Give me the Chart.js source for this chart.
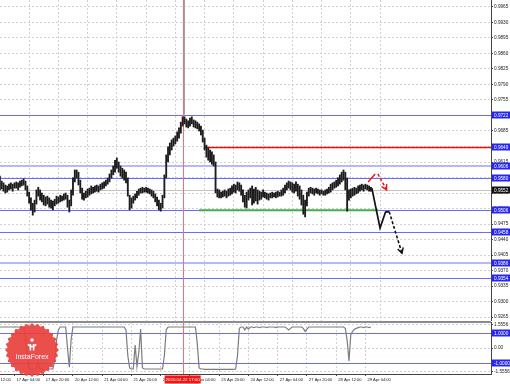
<!DOCTYPE html>
<html lang="en">
<head>
<meta charset="UTF-8">
<title>EURCHF H1</title>
<script src="https://cdn.jsdelivr.net/npm/chart.js"></script>
<style>
  body { margin: 0; background: #fff; }
  #wrap { position: relative; width: 510px; height: 384px; overflow: hidden; }
  #main { position: absolute; left: 0; top: 0; }
  #osc { position: absolute; left: 0; top: 321px; }
</style>
</head>
<body>
<div id="wrap">
  <canvas id="main" width="510" height="321"></canvas>
  <canvas id="osc" width="510" height="63"></canvas>
</div>
<script>
// bar index 0 = 17 Apr 04:00, one bar per hour of trading
const firstBar = -8;
const highs = [
  0.9583, 0.9572, 0.9568, 0.9563, 0.9561, 0.9565, 0.9568, 0.9565,
  0.9568, 0.9570, 0.9568, 0.9572, 0.9574, 0.9577, 0.9572, 0.9561, 0.9547, 0.9534,
  0.9522, 0.9529, 0.9552, 0.9558, 0.9552, 0.9545, 0.9540, 0.9536, 0.9538, 0.9534,
  0.9529, 0.9527, 0.9531, 0.9538, 0.9536, 0.9540, 0.9538, 0.9543, 0.9545, 0.9540,
  0.9529, 0.9552, 0.9579, 0.9597, 0.9597, 0.9592, 0.9574, 0.9556, 0.9545, 0.9549,
  0.9554, 0.9556, 0.9561, 0.9558, 0.9561, 0.9563, 0.9561, 0.9565, 0.9568, 0.9570,
  0.9574, 0.9579, 0.9588, 0.9597, 0.9606, 0.9619, 0.9624, 0.9615, 0.9606, 0.9601,
  0.9597, 0.9592, 0.9579, 0.9540, 0.9534, 0.9538, 0.9543, 0.9549, 0.9554, 0.9556,
  0.9558, 0.9556, 0.9558, 0.9556, 0.9554, 0.9552, 0.9549, 0.9543, 0.9536, 0.9529,
  0.9522, 0.9540, 0.9586, 0.9631, 0.9649, 0.9658, 0.9665, 0.9669, 0.9674, 0.9683,
  0.9692, 0.9705, 0.9717, 0.9717, 0.9712, 0.9708, 0.9714, 0.9717, 0.9710, 0.9708,
  0.9705, 0.9701, 0.9696, 0.9687, 0.9669, 0.9653, 0.9647, 0.9642, 0.9638, 0.9631,
  0.9615, 0.9554, 0.9552, 0.9547, 0.9549, 0.9552, 0.9549, 0.9554, 0.9556, 0.9561,
  0.9565, 0.9563, 0.9570, 0.9568, 0.9563, 0.9552, 0.9540, 0.9547, 0.9552, 0.9556,
  0.9561, 0.9554, 0.9558, 0.9552, 0.9549, 0.9547, 0.9552, 0.9547, 0.9545, 0.9543,
  0.9545, 0.9547, 0.9545, 0.9547, 0.9549, 0.9547, 0.9552, 0.9556, 0.9563, 0.9568,
  0.9572, 0.9570, 0.9568, 0.9565, 0.9570, 0.9565, 0.9561, 0.9552, 0.9540, 0.9529,
  0.9547, 0.9556, 0.9558, 0.9556, 0.9554, 0.9556, 0.9554, 0.9552, 0.9552, 0.9549,
  0.9552, 0.9554, 0.9558, 0.9565, 0.9568, 0.9570, 0.9574, 0.9579, 0.9586, 0.9592,
  0.9597, 0.9592, 0.9579, 0.9552, 0.9554, 0.9556, 0.9558, 0.9556, 0.9561, 0.9563,
  0.9565, 0.9563, 0.9565, 0.9563, 0.9561, 0.9558
];
const lows = [
  0.9552, 0.9554, 0.9549, 0.9545, 0.9547, 0.9552, 0.9554, 0.9549,
  0.9556, 0.9556, 0.9552, 0.9558, 0.9561, 0.9563, 0.9552, 0.9538, 0.9522, 0.9507,
  0.9495, 0.9502, 0.9520, 0.9538, 0.9529, 0.9525, 0.9518, 0.9516, 0.9520, 0.9513,
  0.9511, 0.9507, 0.9516, 0.9520, 0.9522, 0.9525, 0.9527, 0.9529, 0.9531, 0.9513,
  0.9502, 0.9516, 0.9540, 0.9570, 0.9579, 0.9563, 0.9545, 0.9531, 0.9529, 0.9534,
  0.9536, 0.9540, 0.9543, 0.9545, 0.9547, 0.9549, 0.9547, 0.9552, 0.9554, 0.9556,
  0.9561, 0.9565, 0.9570, 0.9579, 0.9586, 0.9592, 0.9601, 0.9592, 0.9583, 0.9579,
  0.9574, 0.9568, 0.9538, 0.9507, 0.9511, 0.9522, 0.9529, 0.9534, 0.9540, 0.9545,
  0.9545, 0.9547, 0.9547, 0.9545, 0.9543, 0.9538, 0.9534, 0.9525, 0.9516, 0.9507,
  0.9504, 0.9511, 0.9534, 0.9579, 0.9615, 0.9631, 0.9642, 0.9651, 0.9656, 0.9662,
  0.9669, 0.9680, 0.9696, 0.9701, 0.9694, 0.9692, 0.9696, 0.9701, 0.9694, 0.9692,
  0.9690, 0.9685, 0.9676, 0.9660, 0.9642, 0.9626, 0.9619, 0.9615, 0.9610, 0.9606,
  0.9545, 0.9536, 0.9534, 0.9534, 0.9536, 0.9538, 0.9534, 0.9538, 0.9540, 0.9543,
  0.9547, 0.9545, 0.9552, 0.9549, 0.9540, 0.9525, 0.9513, 0.9511, 0.9529, 0.9534,
  0.9518, 0.9522, 0.9527, 0.9520, 0.9529, 0.9531, 0.9536, 0.9534, 0.9531, 0.9529,
  0.9534, 0.9534, 0.9536, 0.9534, 0.9536, 0.9538, 0.9538, 0.9540, 0.9545, 0.9552,
  0.9556, 0.9552, 0.9547, 0.9545, 0.9549, 0.9538, 0.9531, 0.9518, 0.9497, 0.9491,
  0.9516, 0.9538, 0.9545, 0.9543, 0.9540, 0.9545, 0.9543, 0.9540, 0.9543, 0.9540,
  0.9540, 0.9543, 0.9545, 0.9547, 0.9552, 0.9556, 0.9558, 0.9561, 0.9565, 0.9570,
  0.9574, 0.9552, 0.9504, 0.9529, 0.9534, 0.9538, 0.9540, 0.9543, 0.9545, 0.9549,
  0.9552, 0.9549, 0.9554, 0.9552, 0.9549, 0.9549
];
const osc = [
  1.39, 1.39, 1.39, 1.39, 1.39, 1.39, 1.39, 1.39,
  1.39, 1.39, 1.39, 1.39, 1.39, 1.39, 0.8, -0.5, -1.37, -1.37,
  -1.37, -1.37, -1.37, -0.9, -1.37, -1.37, -1.37, -1.37, -1.37, -1.37,
  -1.37, -1.37, -0.8, 0.5, 1.2, 1.39, 1.39, 1.39, 1.39, 0.0,
  -1.25, 0.6, 1.39, 1.39, 1.39, 1.39, 1.39, 1.39, 1.39, 1.39,
  1.39, 1.39, 1.39, 1.39, 1.39, 1.39, 1.39, 1.39, 1.39, 1.39,
  1.39, 1.39, 1.39, 1.39, 1.39, 1.39, 1.39, 1.39, 1.39, 1.39,
  1.39, 1.2, -0.5, -1.3, -1.37, -1.37, 0.2, -1.2, -0.3, 1.25,
  -1.3, -1.37, -1.37, -1.37, -1.37, -1.37, -1.37, -1.37, -1.37, -1.37,
  -1.37, -1.37, -0.5, 1.2, 1.39, 1.39, 1.39, 1.39, 1.39, 1.39,
  1.39, 1.39, 1.39, 1.39, 1.39, 1.39, 1.39, 1.39, 1.39, 1.39,
  0.3, -1.3, -1.37, -1.37, -1.4, -1.4, -1.4, -1.4, -1.4, -1.4,
  -1.4, -1.4, -1.4, -1.4, -1.4, -1.4, -1.4, -1.4, -1.4, -1.4,
  -1.4, -1.37, -0.5, 1.3, 1.39, 1.39, 1.2, 1.39, 1.25, 1.39,
  1.39, 1.35, 1.39, 1.39, 1.35, 1.39, 1.39, 1.39, 1.35, 1.39,
  1.39, 1.39, 1.39, 1.35, 1.39, 1.39, 1.39, 1.39, 1.39, 1.3,
  1.2, 1.3, 1.39, 1.39, 1.39, 1.39, 1.39, 1.39, 1.3, 1.1,
  1.25, 1.39, 1.39, 1.39, 1.39, 1.39, 1.39, 1.39, 1.39, 1.39,
  1.39, 1.39, 1.39, 1.39, 1.39, 1.39, 1.39, 1.39, 1.39, 1.39,
  1.39, 1.3, 0.5, -0.85, 0.9, 1.1, 1.25, 1.3, 1.35, 1.39,
  1.39, 1.35, 1.39, 1.39, 1.35, 1.39
];
const timeLabels = ['16 Apr 12:00', '17 Apr 04:00', '17 Apr 20:00', '20 Apr 12:00', '21 Apr 04:00',
  '21 Apr 20:00', '22 Apr 12:00', '23 Apr 04:00', '23 Apr 20:00', '24 Apr 12:00',
  '27 Apr 04:00', '27 Apr 20:00', '28 Apr 12:00', '29 Apr 04:00'];
const barsPerLabel = 16;
const priceTicks = [0.9965, 0.9930, 0.9895, 0.9860, 0.9825, 0.9790, 0.9755, 0.9720, 0.9685, 0.9650,
  0.9615, 0.9580, 0.9545, 0.9510, 0.9475, 0.9440, 0.9405, 0.9370, 0.9335, 0.9300, 0.9265];
const blueLevels = [0.9722, 0.9580, 0.9506, 0.9458, 0.9354];
const paleLevels = [0.9606, 0.9386];
const lastPrice = 0.9552;
const redLevel = 0.9649, redFrom = 104;
const greenLevel = 0.9506, greenFrom = 101, greenTo = 199;
const markerBar = 92, markerText = '2020.04.22 17:00';
const blackPath = [[195.5, 0.9556], [200, 0.9466], [203, 0.9502], [205, 0.9503]];
const blackDash = [[205, 0.9503], [212, 0.9409]];
const redPath = [[193.5, 0.9570], [197.3, 0.9588]];
const redDash = [[198.8, 0.9588], [203.6, 0.9552]];
const oscTicks = [1.5556, 0, -1.5556];
const oscLevels = [1, -1];

const axisFont = "'Liberation Sans', Arial, sans-serif";
const xMin = -7.93, xMax = 260.7;
const pts = arr => arr.map(([x, y]) => ({x, y}));

function labelBox(ctx, x, y, text, bg) {
  y = Math.round(y);
  ctx.fillStyle = bg;
  ctx.fillRect(x, y - 3.5, 510 - x, 7);
  ctx.fillStyle = '#fff';
  ctx.font = '4.7px ' + axisFont;
  ctx.textAlign = 'left';
  ctx.textBaseline = 'middle';
  ctx.fillText(text, x + 2, y + 0.3);
}

function hLine(ctx, a, y, color, width) {
  ctx.strokeStyle = color;
  ctx.lineWidth = width;
  ctx.beginPath();
  ctx.moveTo(a.left, y);
  ctx.lineTo(a.right, y);
  ctx.stroke();
}

function xAxis(showLabels) {
  return {
    type: 'linear', min: xMin, max: xMax, offset: false,
    afterBuildTicks: s => { s.ticks = timeLabels.map((t, k) => ({value: (k - 1) * barsPerLabel})); },
    afterFit: s => { s.height = showLabels ? 10 : 0; s.paddingLeft = 0; s.paddingRight = 0; },
    ticks: {
      display: showLabels, autoSkip: false, maxRotation: 0, minRotation: 0,
      align: 'start', labelOffset: 2, padding: 1, color: '#222',
      font: {size: 4.1, family: axisFont},
      callback: (v, i) => timeLabels[i]
    },
    grid: {color: '#d2d2d2', drawTicks: showLabels, tickLength: 2, tickColor: '#444'},
    border: {display: showLabels, color: '#444', dash: [2, 2]}
  };
}

function yAxis(min, max, ticks, fmt) {
  return {
    type: 'linear', position: 'right', min, max,
    afterBuildTicks: s => { s.ticks = ticks.map(v => ({value: v})); },
    afterFit: s => { s.width = 19; s.paddingTop = 0; s.paddingBottom = 0; },
    ticks: {color: '#222', padding: 1, font: {size: 4.7, family: axisFont}, callback: fmt},
    grid: {color: '#d2d2d2', tickLength: 2, tickColor: '#444'},
    border: {display: true, color: '#444', width: 1, dash: [2, 2]}
  };
}

const arrowPlugin = {
  id: 'arrows',
  afterDatasetsDraw(chart) {
    const ctx = chart.ctx;
    chart.data.datasets.forEach((ds, di) => {
      if (!ds.arrowHead) return;
      const pts = chart.getDatasetMeta(di).data;
      const p1 = pts[pts.length - 2], p2 = pts[pts.length - 1];
      const ang = Math.atan2(p2.y - p1.y, p2.x - p1.x);
      const L = 6;
      ctx.save();
      ctx.strokeStyle = ds.borderColor;
      ctx.lineWidth = 1.4;
      ctx.beginPath();
      ctx.moveTo(p2.x - L * Math.cos(ang - 0.5), p2.y - L * Math.sin(ang - 0.5));
      ctx.lineTo(p2.x, p2.y);
      ctx.lineTo(p2.x - L * Math.cos(ang + 0.5), p2.y - L * Math.sin(ang + 0.5));
      ctx.stroke();
      ctx.restore();
    });
  }
};

const mainPlugin = {
  id: 'mainLevels',
  beforeDatasetsDraw(chart) {
    const {ctx, chartArea: a, scales: {x, y}} = chart;
    ctx.save();
    hLine(ctx, a, Math.round(y.getPixelForValue(lastPrice)) + 0.5, '#c4c4c4', 1);
    paleLevels.forEach(v => hLine(ctx, a, Math.round(y.getPixelForValue(v)), '#b8b8ff', 2));
    blueLevels.forEach(v => hLine(ctx, a, Math.round(y.getPixelForValue(v)) + 0.5, '#6a6aff', 1));
    // red resistance line
    const ry = Math.round(y.getPixelForValue(redLevel)) + 0.5;
    ctx.strokeStyle = '#e01010';
    ctx.lineWidth = 1.3;
    ctx.beginPath();
    ctx.moveTo(x.getPixelForValue(redFrom), ry);
    ctx.lineTo(a.right, ry);
    ctx.stroke();
    // time marker
    const mx = Math.round(x.getPixelForValue(markerBar)) + 0.5;
    ctx.strokeStyle = '#a0a0a0';
    ctx.lineWidth = 1;
    ctx.beginPath();
    ctx.moveTo(mx + 1, a.top);
    ctx.lineTo(mx + 1, y.getPixelForValue(blueLevels[0]));
    ctx.stroke();
    ctx.strokeStyle = '#f07070';
    ctx.beginPath();
    ctx.moveTo(mx, a.top);
    ctx.lineTo(mx, a.bottom);
    ctx.stroke();
    ctx.restore();
  },
  afterDraw(chart) {
    const {ctx, chartArea: a, scales: {y}} = chart;
    ctx.save();
    const bx = a.right + 1;
    blueLevels.concat(paleLevels).forEach(v => labelBox(ctx, bx, y.getPixelForValue(v), v.toFixed(4), '#2626f0'));
    labelBox(ctx, bx, y.getPixelForValue(redLevel), redLevel.toFixed(4), '#2626f0');
    labelBox(ctx, bx, y.getPixelForValue(lastPrice), lastPrice.toFixed(4), '#111');
    ctx.restore();
  }
};

const oscPlugin = {
  id: 'oscExtras',
  beforeDatasetsDraw(chart) {
    const {ctx, chartArea: a, scales: {x, y}} = chart;
    ctx.save();
    oscLevels.forEach(v => hLine(ctx, a, Math.round(y.getPixelForValue(v)) + 0.5, '#6a6aff', 1));
    const mx = Math.round(x.getPixelForValue(markerBar)) + 0.5;
    ctx.strokeStyle = '#f07070';
    ctx.lineWidth = 1;
    ctx.beginPath();
    ctx.moveTo(mx, 0);
    ctx.lineTo(mx, a.bottom);
    ctx.stroke();
    ctx.restore();
  },
  afterDatasetsDraw(chart) {
    // InstaForex badge
    const ctx = chart.ctx;
    const cx = 32, cy = 29, R = 27, r = 24.5, n = 28;
    ctx.save();
    ctx.globalAlpha = 0.92;
    ctx.fillStyle = '#e8403c';
    ctx.beginPath();
    for (let k = 0; k < n * 2; k++) {
      const rad = k % 2 ? r : R;
      const ang = k * Math.PI / n;
      ctx.lineTo(cx + rad * Math.cos(ang), cy + rad * Math.sin(ang));
    }
    ctx.closePath();
    ctx.fill();
    ctx.globalAlpha = 1;
    ctx.strokeStyle = '#fff';
    ctx.fillStyle = '#fff';
    ctx.lineWidth = 1.6;
    ctx.beginPath();
    ctx.arc(cx, cy - 10, 1.8, 0, Math.PI * 2);
    ctx.fill();
    ctx.beginPath();
    ctx.arc(cx, cy - 8, 4.5, 0.15 * Math.PI, 0.85 * Math.PI);
    ctx.stroke();
    ctx.beginPath();
    ctx.moveTo(cx - 1.6, cy - 6);
    ctx.lineTo(cx - 1.6, cy + 0.5);
    ctx.moveTo(cx + 1.6, cy - 6);
    ctx.lineTo(cx + 1.6, cy + 0.5);
    ctx.stroke();
    ctx.font = '7px "Liberation Sans", Arial, sans-serif';
    ctx.textAlign = 'center';
    ctx.textBaseline = 'middle';
    ctx.fillText('InstaForex', cx, cy + 7);
    ctx.restore();
  },
  afterDraw(chart) {
    const {ctx, chartArea: a, scales: {x, y}} = chart;
    ctx.save();
    ctx.fillStyle = '#8c8c8c';
    ctx.fillRect(0, 0, a.right, 2);
    const bx = a.right + 1;
    oscLevels.forEach(v => labelBox(ctx, bx, y.getPixelForValue(v), v.toFixed(4), '#2626f0'));
    // date marker on the time axis
    const mx = x.getPixelForValue(markerBar);
    ctx.fillStyle = '#ff1010';
    ctx.fillRect(mx - 18, a.bottom + 1.5, 36, 8);
    ctx.fillStyle = '#fff';
    ctx.font = '4.4px ' + axisFont;
    ctx.textAlign = 'center';
    ctx.textBaseline = 'middle';
    ctx.fillText(markerText, mx, a.bottom + 5.6);
    ctx.restore();
  }
};

const common = {
  responsive: false, devicePixelRatio: 1, animation: false, events: [],
  plugins: {legend: {display: false}, tooltip: {enabled: false}}
};

new Chart(document.getElementById('main'), {
  type: 'bar',
  data: {
    datasets: [
      {type: 'line', data: pts(blackPath), borderColor: '#111', borderWidth: 1.7, pointRadius: 0, order: 0},
      {type: 'line', data: pts(blackDash), borderColor: '#111', borderWidth: 1.6, borderDash: [3, 2], pointRadius: 0, order: 0, arrowHead: true},
      {type: 'line', data: pts(redPath), borderColor: '#f01818', borderWidth: 1.5, pointRadius: 0, order: 0},
      {type: 'line', data: pts(redDash), borderColor: '#f01818', borderWidth: 1.5, borderDash: [3, 2], pointRadius: 0, order: 0, arrowHead: true},
      {type: 'bar', data: highs.map((h, k) => ({x: firstBar + k, y: [lows[k], h]})),
        backgroundColor: '#1c1c1c', borderWidth: 0, barThickness: 1.2, order: 1},
      {type: 'line', data: [{x: greenFrom, y: greenLevel}, {x: greenTo, y: greenLevel}],
        borderColor: '#43ad4a', borderWidth: 2, pointRadius: 0, order: 2}
    ]
  },
  options: Object.assign({}, common, {
    layout: {padding: 0},
    scales: {
      x: xAxis(false),
      y: yAxis(0.92561, 0.99807, priceTicks, v => v.toFixed(4))
    }
  }),
  plugins: [mainPlugin, arrowPlugin]
});

new Chart(document.getElementById('osc'), {
  type: 'line',
  data: {
    datasets: [{data: osc.map((v, k) => ({x: firstBar + k, y: v})), borderColor: '#7c7c7c', borderWidth: 1.2, pointRadius: 0}]
  },
  options: Object.assign({}, common, {
    layout: {padding: {top: 1}},
    scales: {
      x: xAxis(true),
      y: yAxis(-1.7, 1.72, oscTicks, v => v === 0 ? '0.00' : v.toFixed(4))
    }
  }),
  plugins: [oscPlugin]
});
</script>
</body>
</html>
